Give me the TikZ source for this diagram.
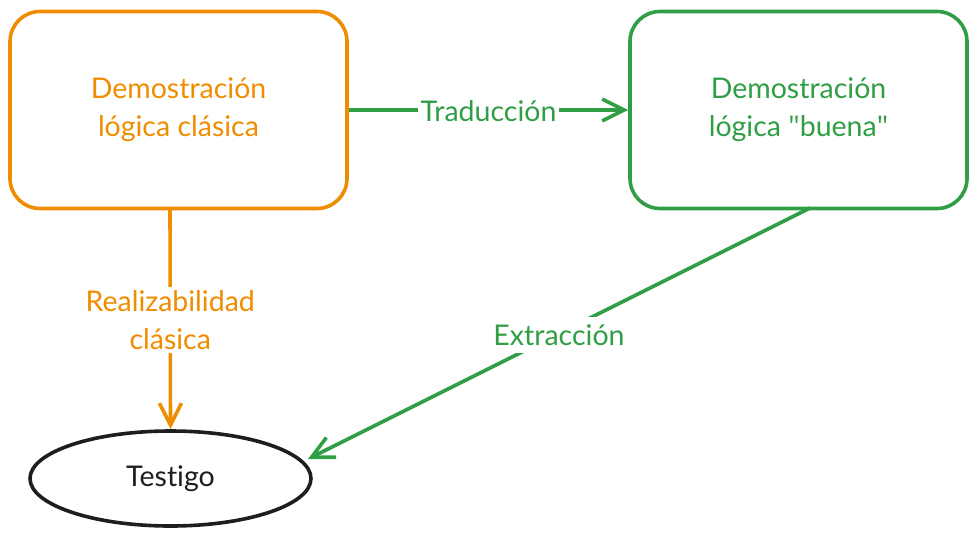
\documentclass[tikz,border=0pt]{standalone}
\usepackage{fontspec}
\setmainfont[Ligatures={NoCommon}]{Lato}
\newfontfamily\quotefont{Open Sans}
\usetikzlibrary{shapes.geometric,arrows.meta}
\definecolor{exorange}{HTML}{F08C00}
\definecolor{exgreen}{HTML}{2F9E44}
\definecolor{exblack}{HTML}{1E1E1E}
\newcommand{\dq}{{\quotefont\symbol{34}}}
\begin{document}
\begin{tikzpicture}[x=1pt,y=-1pt,
  txt/.style={font=\fontsize{28.5}{38}\selectfont},
  box/.style={draw, line width=3.6pt, rounded corners=30pt, minimum width=337pt, minimum height=197pt, inner sep=0pt, align=center, txt},
  lbl/.style={fill=white, inner sep=3pt, align=center, txt},
  conn/.style={line width=3.6pt, -{Straight Barb[length=22pt,width=22pt,line width=3.6pt]}},
  ]
\useasboundingbox (0,0) rectangle (977,536);
\node[box, draw=exorange, text=exorange] (a) at (178.5,110) {Demostración\\lógica clásica};
\node[box, draw=exgreen, text=exgreen] (b) at (798.5,110) {Demostración\\lógica \dq buena\dq};
\node[draw=exblack, line width=3.6pt, ellipse, minimum width=281pt, minimum height=95pt, inner sep=0pt, text=exblack, txt] (c) at (170.5,478.5) {Testigo};
\coordinate (bs) at (810,208);
\coordinate (ce) at (308,459);
\coordinate (as) at (170,208);
\draw[conn, exorange] (as) -- (c.north) node[lbl, text=exorange, pos=0.5, yshift=-1.5pt] {Realizabilidad\\clásica};
\draw[conn, exgreen] (a.east) -- (b.west) node[lbl, text=exgreen, pos=0.5, yshift=-1.5pt] {Traducción};
\draw[conn, exgreen] (bs) -- (ce) node[lbl, text=exgreen, pos=0.5, inner xsep=2pt, inner ysep=7pt, yshift=-1.5pt] {Extracción};
\end{tikzpicture}
\end{document}
